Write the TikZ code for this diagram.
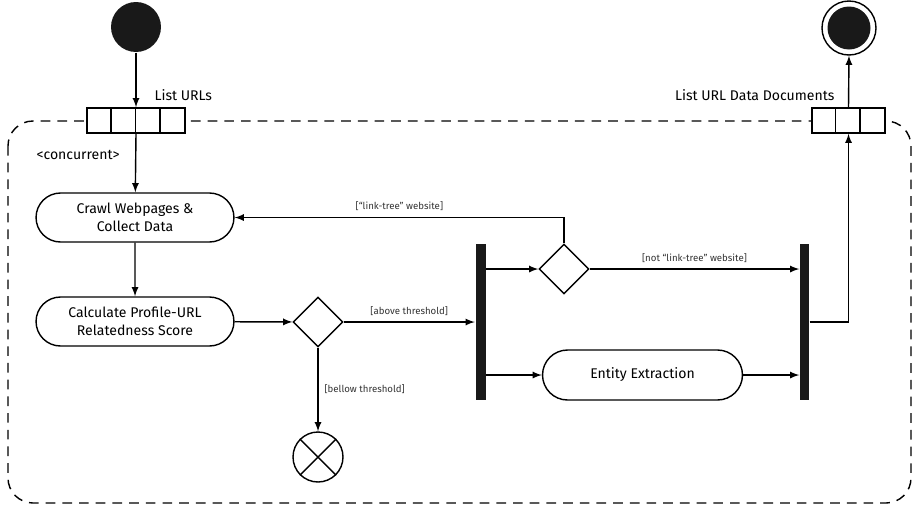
\documentclass[tikz,border=0pt]{standalone}
\usepackage{fontspec}
\setmainfont{Fira Sans}
\usetikzlibrary{positioning,arrows,calc,shapes.geometric,shapes.misc}

\begin{document}
\begin{tikzpicture}[>=latex, x=0.02cm, y=-0.02cm, line width=0.8pt,
	font=\fontsize{8}{10}\selectfont,
	action/.style={draw, rounded rectangle, minimum width=4.1cm,
		minimum height=0.98cm, align=center, inner sep=2pt},
	decision/.style={draw, diamond, minimum width=1cm, minimum height=1cm, inner sep=0pt},
	bar/.style={fill=black!90, inner sep=0pt, minimum width=0.2cm, minimum height=3.12cm},
	guard/.style={font=\fontsize{5.5}{7}\selectfont, text=black!80},
	pin/.style={draw, fill=white, inner sep=0pt, minimum height=0.5cm}]
	\useasboundingbox (0,0) rectangle (916,508);

	% activity frame
	\draw[dashed, dash pattern=on 5.5pt off 4pt, rounded corners=0.5cm] (8,121) rectangle (911,503);
	\node[anchor=west] (conc) at (30,155) {<concurrent>};

	% initial / final
	\node[circle, fill=black!90, minimum size=1cm, inner sep=0pt] (start) at (136,27) {};
	\node[circle, draw, minimum size=1.08cm, inner sep=0pt] (stop) at (849,28) {};
	\node[circle, fill=black!90, minimum size=0.86cm, inner sep=0pt] at (stop) {};

	% pins
	\node[pin, minimum width=1.96cm] (pinIn) at (136,120.5) {};
	\foreach \i in {1,2,3}
		\draw ($(pinIn.north west)+(\i*24.5,0)$) -- ($(pinIn.south west)+(\i*24.5,0)$);
	\node[anchor=west] (lblIn) at (148,95) {List URLs};

	\node[pin, minimum width=1.46cm] (pinOut) at (848.5,120.5) {};
	\foreach \i in {1,2}
		\draw ($(pinOut.north west)+(\i*24.3,0)$) -- ($(pinOut.south west)+(\i*24.3,0)$);
	\node[anchor=east] (lblOut) at (841,95) {List URL Data Documents};

	% actions
	\node[action] (crawl) at (135,217.5) {Crawl Webpages \&\\Collect Data};
	\node[action] (calc) at (135,321.5) {Calculate Profile-URL\\Relatedness Score};
	\node[action, minimum width=4.14cm, minimum height=1cm] (entity) at (642.5,375) {Entity Extraction};

	% decisions, bars, flow final
	\node[decision] (D1) at (318,322) {};
	\node[decision] (D2) at (564,269) {};
	\node[bar] (fork) at (480.5,322) {};
	\node[bar, minimum width=0.18cm] (join) at (804.5,322) {};
	\node[circle, draw, minimum size=1cm, inner sep=0pt] (flowEnd) at (318,457) {};
	\draw (flowEnd.45) -- (flowEnd.225);
	\draw (flowEnd.135) -- (flowEnd.315);

	% flows
	\draw[->] (start) -- (pinIn.north -| start);
	\draw[->] (pinIn.south -| start) -- (crawl);
	\draw[->] (crawl) -- (calc);
	\draw[->] (calc) -- (D1);
	\draw[->] (D1) -- node[guard, above] {[above threshold]} (fork.west |- D1.east);
	\draw[->] (D1) -- node[guard, right] {[bellow threshold]} (flowEnd);
	\draw[->] (fork.east |- D2.west) -- (D2.west);
	\draw[->] (fork.east |- entity.west) -- (entity.west);
	\draw[->] (D2.north) |- node[guard, above, pos=0.75] {[“link-tree” website]} (crawl.east);
	\draw[->] (D2.east) -- node[guard, above] {[not “link-tree” website]} (join.west |- D2.east);
	\draw[->] (entity.east) -- (join.west |- entity.east);
	\draw[->] (join.east) -| (pinOut.south);
	\draw[->] (pinOut.north) -- (stop.south);
\end{tikzpicture}
\end{document}
